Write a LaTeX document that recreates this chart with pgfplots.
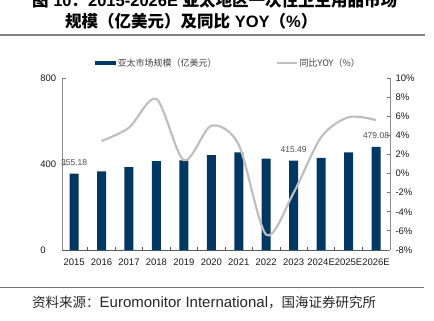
\documentclass[border=0pt]{standalone}
\usepackage{pgfplots}
\pgfplotsset{compat=1.18}
\usepackage{fontspec}
\setmainfont{Liberation Sans}
\newfontfamily\cjk{Noto Sans CJK SC}
\definecolor{barblue}{RGB}{0,56,101}
\definecolor{linegray}{RGB}{191,191,191}
\definecolor{axgray}{RGB}{128,128,128}
\begin{document}
\begin{tikzpicture}
\useasboundingbox (0pt,0pt) rectangle (434pt,-321pt);
\node[anchor=west, inner sep=0, font=\bfseries\fontsize{16.5}{18}\selectfont] at (32pt,-0.5pt) {{\cjk 图} 10{\cjk ：}2015-2026E {\cjk 亚太地区一次性卫生用品市场}};
\node[anchor=west, inner sep=0, font=\bfseries\fontsize{16.5}{18}\selectfont] at (65pt,-21.3pt) {{\cjk 规模（亿美元）及同比} YOY{\cjk （}\%{\cjk ）}};
\draw[axgray, line width=1.5pt] (0pt,-35pt) -- (425pt,-35pt);
\draw[black!55, line width=1pt] (0pt,-287pt) -- (424pt,-287pt);
\node[anchor=west, inner sep=0, text=black!85] at (32pt,-303pt) {{\cjk\fontsize{13.5}{14}\selectfont 资料来源：}{\fontsize{15}{16}\selectfont Euromonitor International}{\cjk\fontsize{13.5}{14}\selectfont ，国海证券研究所}};

\begin{axis}[
  at={(62pt,-250pt)}, anchor=south west, scale only axis, width=328pt, height=172pt,
  xmin=-0.44, xmax=11.51, ymin=0, ymax=800,
  axis x line*=bottom, axis y line*=left,
  x axis line style={black!65, line width=0.9pt},
  y axis line style={black!45, line width=0.9pt},
  tick align=inside,
  xtick={0.5,1.5,...,10.5}, xticklabels={},
  x tick style={black!65, line width=0.8pt}, major tick length=3.5pt,
  extra x ticks={0,1,2,3,4,5,6,7,8,9,10,11},
  extra x tick labels={2015,2016,2017,2018,2019,2020,2021,2022,2023,2024E,2025E,2026E},
  extra x tick style={major tick length=0pt, xticklabel style={yshift=-5pt}},
  ytick={0,400,800},
  y tick style={black!55, line width=0.8pt},
  yticklabel style={anchor=west, xshift=-25.2pt},
  ticklabel style={font=\fontsize{9.5}{11}\selectfont, text=black!90},
  /pgf/number format/assume math mode=true,
]
\addplot[ybar, bar width=9pt, fill=barblue, draw=none] coordinates {(0,355.18)(1,366)(2,385)(3,413)(4,417)(5,441)(6,454)(7,425)(8,415.49)(9,428)(10,454)(11,479.08)};
\addplot[draw=none, nodes near coords, point meta=explicit symbolic,
  nodes near coords style={font=\fontsize{8.5}{10}\selectfont, text=black!70, anchor=south, yshift=5pt}]
  coordinates {(0,355.18)[355.18] (8,415.49)[415.49] (11,479.08)[479.08]};
\end{axis}

\begin{axis}[
  at={(62pt,-250pt)}, anchor=south west, scale only axis, width=328pt, height=172pt,
  xmin=-0.44, xmax=11.51, ymin=-8, ymax=10,
  axis x line=none, axis y line*=right,
  y axis line style={black!45, line width=0.9pt},
  tick align=inside, major tick length=3.5pt,
  y tick style={black!55, line width=0.8pt},
  ytick={-8,-6,-4,-2,0,2,4,6,8,10},
  yticklabel={\pgfmathprintnumber{\tick}\%},
  yticklabel style={anchor=west, xshift=2pt},
  ticklabel style={font=\fontsize{9.5}{11}\selectfont, text=black!90},
  /pgf/number format/assume math mode=true,
  legend columns=2,
  legend cell align=left,
  legend style={at={(axis description cs:0.1006,1.087)}, anchor=west, draw=none, fill=none, inner sep=0pt,
    font=\cjk\fontsize{9}{10}\selectfont, text=black!75,
    /tikz/every even column/.append style={column sep=57pt}},
]
\addlegendimage{legend image code/.code={\fill[barblue] (0pt,-1.6pt) rectangle (20pt,1.6pt);}}
\addlegendentry{亚太市场规模（亿美元）}
\addplot[linegray, line width=2.2pt, smooth,
  legend image code/.code={\draw[linegray, line width=2pt] (0pt,0pt) -- (20pt,0pt);}]
  coordinates {(1,3.4)(2,4.8)(3,7.8)(4,1.4)(5,5.0)(6,3.0)(7,-6.4)(8,-2.0)(9,3.8)(10,5.9)(11,5.6)};
\addlegendentry{同比YOY（\%）}
\end{axis}
\end{tikzpicture}
\end{document}
